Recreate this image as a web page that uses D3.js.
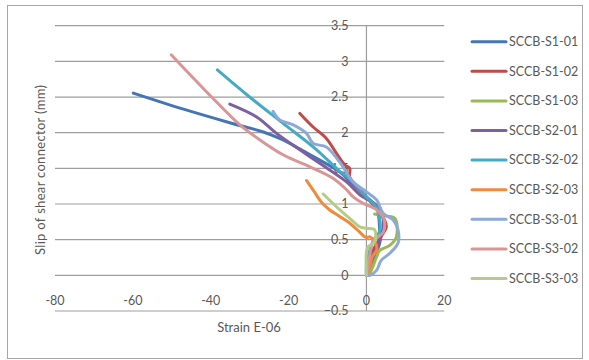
<!DOCTYPE html>
<html>
<head>
<meta charset="utf-8">
<script src="https://cdn.jsdelivr.net/npm/d3@7"></script>
<style>
  html, body { margin: 0; padding: 0; background: #fff; }
  svg text { font-family: Lato, "Open Sans", sans-serif; fill: #595959; }
</style>
</head>
<body>
<svg id="chart" width="589" height="360"></svg>
<script>
// Series names and colours
const seriesNames = ["SCCB-S1-01","SCCB-S1-02","SCCB-S1-03","SCCB-S2-01","SCCB-S2-02","SCCB-S2-03","SCCB-S3-01","SCCB-S3-02","SCCB-S3-03"];
const seriesColors = ["#4575B5","#BE4B48","#98B954","#7D60A0","#46AAC5","#F08A3C","#8EA9D8","#D99694","#B3CC8A"];

// Strain (E-06) and slip (mm) for each specimen
const s1_01_strain = [0, 0.8, 2.0, 3.4, 3.4, 2.6, 0, -3.4, -6.9, -12.8, -18.0, -22.3, -26.5, -35.1, -47.0, -59.9];
const s1_01_slip   = [0, 0.10, 0.26, 0.45, 0.62, 0.96, 1.10, 1.27, 1.45, 1.64, 1.80, 1.92, 2.01, 2.14, 2.33, 2.555];

const s1_02_strain = [0, 0.8, 1.7, 3.5, 5.1, 4.6, 3.4, 0, -2.6, -4.3, -4.3, -5.6, -7.7, -10.3, -13.7, -17.1];
const s1_02_slip   = [0, 0.15, 0.35, 0.52, 0.68, 0.78, 0.87, 1.10, 1.25, 1.38, 1.50, 1.55, 1.71, 1.92, 2.08, 2.27];

const s1_03_strain = [0, 0.85, 2.6, 3.4, 6.0, 7.7, 7.3, 5.0, 2.1];
const s1_03_slip   = [0, 0.03, 0.26, 0.35, 0.42, 0.54, 0.80, 0.83, 0.86];

const s2_01_strain = [0, 0.9, 2.2, 3.4, 4.3, 2.6, -1.7, -5.1, -12.0, -17.1, -23.1, -28.2, -35.1];
const s2_01_slip   = [0, 0.20, 0.33, 0.47, 0.80, 0.98, 1.13, 1.31, 1.57, 1.76, 1.99, 2.22, 2.40];

const s2_02_strain = [0, 0, 1.7, 3.4, 3.4, 2.6, 0, -4.3, -7.3, -12.8, -21.4, -30.0, -38.3];
const s2_02_slip   = [0, 0.12, 0.48, 0.62, 0.80, 0.95, 1.10, 1.35, 1.48, 1.76, 2.13, 2.50, 2.88];

const s2_03_strain = [0, 0.5, 1.0, 1.5, 2.6, 2.5, 0.9, 0, -2.2, -4.5, -7.0, -9.5, -11.5, -13.5, -15.4];
const s2_03_slip   = [0, 0.07, 0.15, 0.26, 0.35, 0.43, 0.54, 0.53, 0.63, 0.74, 0.83, 0.92, 1.02, 1.18, 1.33];

const s3_01_strain = [0, 0.9, 2.6, 3.8, 6.0, 8.1, 8.1, 6.8, 4.3, 2.6, 0, -3.4, -6.9, -10.3, -13.7, -15.4, -18.8, -22.3, -24.0];
const s3_01_slip   = [0, 0.0, 0.07, 0.21, 0.31, 0.45, 0.64, 0.78, 0.87, 1.06, 1.17, 1.31, 1.59, 1.80, 1.85, 1.99, 2.11, 2.18, 2.30];

const s3_02_strain = [0, 0.9, 1.7, 4.3, 4.7, 4.3, 2.6, -0.9, -3.4, -5.1, -8.6, -13.7, -21.4, -27.4, -32.5, -39.4, -50.1];
const s3_02_slip   = [0, 0.30, 0.48, 0.60, 0.73, 0.82, 0.92, 1.01, 1.10, 1.20, 1.36, 1.50, 1.69, 1.90, 2.11, 2.48, 3.09];

const s3_03_strain = [0, 0, 0.4, 2.1, 2.1, 0, -1.7, -4.3, -6.9, -11.1];
const s3_03_slip   = [0, 0.33, 0.40, 0.47, 0.64, 0.66, 0.68, 0.80, 0.92, 1.14];

// Axis ticks
const xTicks = [-80, -60, -40, -20, 0, 20];
const yTicks = [-0.5, 0, 0.5, 1, 1.5, 2, 2.5, 3, 3.5];

const strainSets = [s1_01_strain, s1_02_strain, s1_03_strain, s2_01_strain, s2_02_strain, s2_03_strain, s3_01_strain, s3_02_strain, s3_03_strain];
const slipSets   = [s1_01_slip, s1_02_slip, s1_03_slip, s2_01_slip, s2_02_slip, s2_03_slip, s3_01_slip, s3_02_slip, s3_03_slip];

const series = seriesNames.map((name, i) => ({
  name,
  color: seriesColors[i],
  points: strainSets[i].map((x, j) => ({ x, y: slipSets[i][j] }))
}));

const svg = d3.select("#chart");

// Chart frame
svg.append("rect")
  .attr("x", 7.5).attr("y", 5.5)
  .attr("width", 575).attr("height", 353)
  .attr("fill", "#fff")
  .attr("stroke", "#A6A6A6").attr("stroke-width", 1);

const x = d3.scaleLinear().domain([-80, 20]).range([55, 444.3]);
const y = d3.scaleLinear().domain([-0.5, 3.5]).range([311, 25.7]);

// Horizontal gridlines
svg.append("g")
  .selectAll("line")
  .data(yTicks)
  .join("line")
  .attr("x1", x(-80)).attr("x2", x(20))
  .attr("y1", d => y(d)).attr("y2", d => y(d))
  .attr("stroke", "#9E9E9E").attr("stroke-width", 1.2);

// Vertical axis line at zero strain
svg.append("line")
  .attr("x1", x(0)).attr("x2", x(0))
  .attr("y1", y(3.5)).attr("y2", y(-0.5))
  .attr("stroke", "#9E9E9E").attr("stroke-width", 1.2);

// Y tick labels sit beside the zero-strain axis
svg.append("g")
  .selectAll("text")
  .data(yTicks)
  .join("text")
  .attr("x", x(0) - 18)
  .attr("y", d => y(d))
  .attr("dy", "0.35em")
  .attr("text-anchor", "end")
  .attr("font-size", 12.5)
  .text(d => d3.format("")(d));

// X tick labels
svg.append("g")
  .selectAll("text")
  .data(xTicks)
  .join("text")
  .attr("x", d => x(d))
  .attr("y", 305)
  .attr("text-anchor", "middle")
  .attr("font-size", 12.5)
  .text(d => d);

// Axis titles
svg.append("text")
  .attr("x", 249).attr("y", 332)
  .attr("text-anchor", "middle")
  .attr("font-size", 13)
  .text("Strain E-06");

svg.append("text")
  .attr("transform", "translate(45,170) rotate(-90)")
  .attr("text-anchor", "middle")
  .attr("font-size", 13)
  .attr("textLength", 170)
  .text("Slip of shear connector  (mm)");

// Data lines
const line = d3.line().x(d => x(d.x)).y(d => y(d.y)).curve(d3.curveCatmullRom.alpha(0.5));

svg.append("g")
  .selectAll("path")
  .data(series)
  .join("path")
  .attr("d", d => line(d.points))
  .attr("fill", "none")
  .attr("stroke", d => d.color)
  .attr("stroke-width", 3)
  .attr("stroke-linejoin", "round")
  .attr("stroke-linecap", "round");

// Legend
const legend = svg.append("g")
  .selectAll("g")
  .data(series)
  .join("g")
  .attr("transform", (d, i) => `translate(472, ${41.7 + i * 29.6})`);

legend.append("line")
  .attr("x1", 0).attr("x2", 34)
  .attr("stroke", d => d.color)
  .attr("stroke-width", 3)
  .attr("stroke-linecap", "round");

legend.append("text")
  .attr("x", 37)
  .attr("dy", "0.35em")
  .attr("font-size", 12.5)
  .text(d => d.name);
</script>
</body>
</html>
